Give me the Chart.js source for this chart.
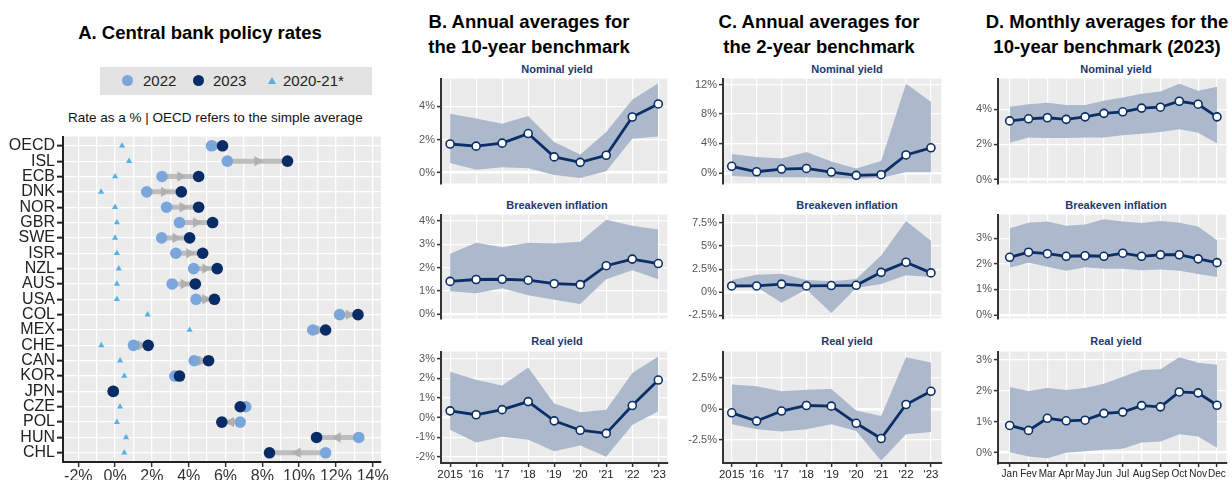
<!DOCTYPE html>
<html><head><meta charset="utf-8">
<script src="https://cdn.jsdelivr.net/npm/chart.js"></script>
<style>
body{margin:0;width:1232px;height:480px;overflow:hidden;background:#fff;font-family:"Liberation Sans",Arial,sans-serif;position:relative}
.ptitle{position:absolute;font-weight:bold;font-size:18.5px;text-align:center;line-height:25px;color:#000;white-space:nowrap}
.stitle{position:absolute;font-weight:bold;font-size:11px;color:#1b3a6f;text-align:center;white-space:nowrap;width:200px}
.lg{position:absolute;font-size:15px;color:#222;line-height:18px}
</style></head><body>
<div class="ptitle" style="left:0;width:400px;top:20px">A. Central bank policy rates</div>
<div class="ptitle" style="left:379px;width:300px;top:9px">B. Annual averages for<br>the 10-year benchmark</div>
<div class="ptitle" style="left:669px;width:300px;top:9px">C. Annual averages for<br>the 2-year benchmark</div>
<div class="ptitle" style="left:957px;width:300px;top:9px">D. Monthly averages for the<br>10-year benchmark (2023)</div>

<div style="position:absolute;left:100px;top:67px;width:272px;height:28px;background:#e3e3e3"></div>
<div style="position:absolute;left:122px;top:75px;width:11px;height:11px;border-radius:50%;background:#7aa6db"></div>
<div class="lg" style="left:143px;top:72px">2022</div>
<div style="position:absolute;left:193px;top:75px;width:11px;height:11px;border-radius:50%;background:#0a2c66"></div>
<div class="lg" style="left:213px;top:72px">2023</div>
<div style="position:absolute;left:268px;top:77px;width:0;height:0;border-left:4px solid transparent;border-right:4px solid transparent;border-bottom:7px solid #55b2e3"></div>
<div class="lg" style="left:283px;top:72px">2020-21*</div>
<div style="position:absolute;left:68px;top:110px;font-size:13.5px;color:#111;white-space:nowrap">Rate as a % | OECD refers to the simple average</div>

<div class="stitle" style="left:457px;top:63px">Nominal yield</div>
<div class="stitle" style="left:457px;top:199px">Breakeven inflation</div>
<div class="stitle" style="left:457px;top:335px">Real yield</div>
<div class="stitle" style="left:747px;top:63px">Nominal yield</div>
<div class="stitle" style="left:747px;top:199px">Breakeven inflation</div>
<div class="stitle" style="left:747px;top:335px">Real yield</div>
<div class="stitle" style="left:1016px;top:63px">Nominal yield</div>
<div class="stitle" style="left:1016px;top:199px">Breakeven inflation</div>
<div class="stitle" style="left:1016px;top:335px">Real yield</div>

<script>
// ---------- Panel A data ----------
const countries = ['OECD','ISL','ECB','DNK','NOR','GBR','SWE','ISR','NZL','AUS','USA','COL','MEX','CHE','CAN','KOR','JPN','CZE','POL','HUN','CHL'];
const rate2022 = [5.24, 6.1, 2.55, 1.72, 2.8, 3.5, 2.53, 3.3, 4.27, 3.1, 4.4, 12.2, 10.74, 1.0, 4.3, 3.25, -0.1, 7.1, 6.8, 13.24, 11.44];
const rate2023 = [5.84, 9.37, 4.54, 3.6, 4.54, 5.3, 4.05, 4.76, 5.55, 4.36, 5.4, 13.2, 11.44, 1.8, 5.08, 3.5, -0.1, 6.8, 5.8, 10.95, 8.39];
const rate2020_21 = [0.38, 0.76, 0, -0.76, 0, 0.1, 0, 0.1, 0.2, 0.1, 0.1, 1.77, 4.05, -0.75, 0.27, 0.5, -0.1, 0.27, 0.1, 0.6, 0.5];
const aTicks = [-2,-1,0,1,2,3,4,5,6,7,8,9,10,11,12,13,14];

// ---------- Panels B-D data ----------
const years = ['2015',"'16","'17","'18","'19","'20","'21","'22","'23"];
const months = ['Jan','Fev','Mar','Apr','May','Jun','Jul','Aug','Sep','Oct','Nov','Dec'];

const bNom   = [1.73,1.6,1.78,2.36,0.95,0.62,1.05,3.36,4.15];
const bNomHi = [3.55,3.27,2.95,3.42,1.85,1.09,2.45,4.4,5.4];
const bNomLo = [0.58,0.18,0.33,0.27,-0.15,-0.33,0.09,2.04,2.18];
const bBe    = [1.41,1.49,1.5,1.46,1.31,1.27,2.08,2.36,2.17];
const bBeHi  = [2.59,3.06,2.87,3.06,3.03,3.1,4.04,3.78,3.62];
const bBeLo  = [0.99,0.9,1.12,0.82,0.63,0.44,1.5,1.88,1.5];
const bReal  = [0.34,0.14,0.4,0.81,-0.17,-0.65,-0.81,0.61,1.91];
const bRealHi= [2.33,1.92,1.63,2.55,0.71,0.27,0.4,2.27,3.11];
const bRealLo= [-0.62,-1.27,-0.98,-1.14,-1.72,-1.43,-2.0,-0.38,0.32];

const cNom   = [0.9,0.16,0.53,0.61,0.12,-0.33,-0.24,2.44,3.41];
const cNomHi = [2.56,2.15,1.95,2.85,1.54,0.61,1.63,12.1,9.67];
const cNomLo = [-0.4,-0.6,-0.6,-0.6,-0.7,-0.8,-0.65,0.08,0.08];
const cBe    = [0.69,0.69,0.89,0.69,0.73,0.76,2.16,3.25,2.1];
const cBeHi  = [1.33,1.91,2.0,1.33,1.2,1.43,3.99,7.72,5.58];
const cBeLo  = [0.47,0.57,-1.13,0.31,-2.24,0.47,0.89,1.85,1.65];
const cReal  = [-0.31,-0.98,-0.17,0.28,0.23,-1.16,-2.39,0.36,1.43];
const cRealHi= [1.97,1.83,1.43,1.56,1.62,-0.12,-0.57,4.18,3.76];
const cRealLo= [-1.24,-1.64,-1.83,-1.64,-1.24,-1.78,-4.18,-2.05,-1.86];

const dNom   = [3.34,3.46,3.52,3.43,3.57,3.77,3.86,4.07,4.12,4.46,4.29,3.57];
const dNomHi = [4.15,4.29,4.37,4.24,4.25,4.49,4.68,4.89,5.01,5.45,5.06,5.28];
const dNomLo = [2.09,2.4,2.37,2.37,2.4,2.4,2.52,2.61,2.71,2.86,2.66,2.06];
const dBe    = [2.25,2.45,2.39,2.29,2.31,2.29,2.41,2.29,2.35,2.35,2.19,2.04];
const dBeHi  = [3.39,3.6,3.65,3.48,3.53,3.74,3.65,3.59,3.67,3.6,3.45,2.92];
const dBeLo  = [1.84,2.04,1.88,1.72,1.86,1.8,1.8,1.74,1.77,1.72,1.6,1.48];
const dReal  = [0.88,0.72,1.11,1.03,1.05,1.27,1.31,1.52,1.48,1.96,1.93,1.53];
const dRealHi= [2.12,1.99,2.09,2.02,2.09,2.22,2.45,2.67,2.69,3.08,2.9,2.84];
const dRealLo= [0.02,-0.12,-0.18,0,0.05,0.1,0.13,0.33,0.36,0.6,0.52,0.16];

const bNomTicks=[0,2,4], bBeTicks=[0,1,2,3,4], bRealTicks=[-2,-1,0,1,2,3];
const cNomTicks=[0,4,8,12], cBeTicks=[-2.5,0,2.5,5,7.5], cRealTicks=[-2.5,0,2.5];
const dNomTicks=[0,2,4], dBeTicks=[0,1,2,3], dRealTicks=[0,1,2,3];

// ---------- styling ----------
const NAVY='#0b2e66', BAND='#acb9cd', LIGHT='#7aa6db', DARK='#0a2c66', SKY='#55b2e3', GRAY='#bdbdbd', ARROW='#b0b0b0';
Chart.defaults.font.family='"Liberation Sans", Arial, sans-serif';

const bg = {id:'bg', beforeDraw(c){const a=c.chartArea, x=c.ctx; x.save(); x.fillStyle='#ebebeb'; x.fillRect(a.left,a.top,a.right-a.left,a.bottom-a.top); x.restore();}};

function mkCanvas(left, top, w, h){
  const cv=document.createElement('canvas'); cv.width=w; cv.height=h;
  cv.style.cssText=`position:absolute;left:${left}px;top:${top}px;width:${w}px;height:${h}px`;
  document.body.appendChild(cv); return cv;
}

function sub(o){
  const cv = mkCanvas(o.left, o.top, o.w, o.h);
  const pts = a => a.map((v,i)=>({x:i,y:v}));
  new Chart(cv, {
    type:'line',
    data:{datasets:[
      {data:pts(o.mid), borderColor:NAVY, borderWidth:2.8, pointRadius:4, pointBackgroundColor:'#fff', pointBorderColor:NAVY, pointBorderWidth:1.6, fill:false, tension:0},
      {data:pts(o.hi), borderWidth:0, pointRadius:0, backgroundColor:BAND, borderColor:'rgba(0,0,0,0)', fill:'+1'},
      {data:pts(o.lo), borderWidth:0, pointRadius:0, borderColor:'rgba(0,0,0,0)', fill:false}
    ]},
    options:{responsive:false, animation:false, devicePixelRatio:1,
      layout:{padding:{top:5, right:0, left:0, bottom:0}},
      plugins:{legend:{display:false}, tooltip:{enabled:false}},
      scales:{
        x:{type:'linear', min:o.xmin, max:o.xmax,
           afterBuildTicks:s=>{s.ticks=o.labels.map((_,i)=>({value:i}));},
           afterFit:s=>{s.height = o.showX ? 17 : 0;},
           grid:{color:'#fff', lineWidth:1.2, drawTicks:o.showX, tickLength:4, tickColor:'#333', tickWidth:1.5},
           border:{display:o.showX, color:'#333', width:2},
           ticks:{display:o.showX, autoSkip:false, maxRotation:0, padding:1, color:'#222', font:{size:o.xfont}, callback:v=>o.labels[Math.round(v)]}},
        y:{type:'linear', min:o.ymin, max:o.ymax,
           afterBuildTicks:s=>{s.ticks=o.ticks.map(v=>({value:v}));},
           afterFit:s=>{s.width=o.yw;},
           grid:{color:'#fff', lineWidth:c=>(c.tick&&c.tick.value===0)?2.6:1.2, tickLength:4, tickColor:'#333', tickWidth:1.5},
           border:{color:'#333', width:2},
           ticks:{color:'#555', font:{size:11}, padding:2, callback:v=>v+'%'}}
      }},
    plugins:[bg]
  });
}

// Panel B
const B={left:395,w:278,yw:46,xmin:-0.35,xmax:8.35,labels:years,xfont:11.5};
sub({...B, top:70, h:122, mid:bNom, hi:bNomHi, lo:bNomLo, ymin:-0.65, ymax:5.68, ticks:bNomTicks, showX:false});
sub({...B, top:206, h:121, mid:bBe, hi:bBeHi, lo:bBeLo, ymin:-0.17, ymax:4.26, ticks:bBeTicks, showX:false});
sub({...B, top:343, h:137, mid:bReal, hi:bRealHi, lo:bRealLo, ymin:-2.32, ymax:3.36, ticks:bRealTicks, showX:true});
// Panel C
const C={left:680,w:267,yw:43,xmin:-0.35,xmax:8.42,labels:years,xfont:11.5};
sub({...C, top:70, h:122, mid:cNom, hi:cNomHi, lo:cNomLo, ymin:-1.42, ymax:12.8, ticks:cNomTicks, showX:false});
sub({...C, top:206, h:121, mid:cBe, hi:cBeHi, lo:cBeLo, ymin:-2.82, ymax:8.4, ticks:cBeTicks, showX:false});
sub({...C, top:343, h:137, mid:cReal, hi:cRealHi, lo:cRealLo, ymin:-4.37, ymax:4.64, ticks:cRealTicks, showX:true});
// Panel D
const D={left:960,w:272,yw:38,xmin:-0.62,xmax:11.5,labels:months,xfont:10};
sub({...D, top:70, h:122, mid:dNom, hi:dNomHi, lo:dNomLo, ymin:-0.22, ymax:5.75, ticks:dNomTicks, showX:false});
sub({...D, top:206, h:121, mid:dBe, hi:dBeHi, lo:dBeLo, ymin:-0.14, ymax:3.92, ticks:dBeTicks, showX:false});
sub({...D, top:343, h:137, mid:dReal, hi:dRealHi, lo:dRealLo, ymin:-0.33, ymax:3.26, ticks:dRealTicks, showX:true});

// Panel A
(function(){
  const cv = mkCanvas(0,125,400,355);
  const ds = [];
  ds.push({data:rate2023.map((v,i)=>({x:v,y:i})), showLine:false, pointRadius:5.8, pointBackgroundColor:DARK, pointBorderWidth:0});
  ds.push({data:rate2022.map((v,i)=>({x:v,y:i})), showLine:false, pointRadius:5.8, pointBackgroundColor:LIGHT, pointBorderWidth:0});
  ds.push({data:rate2020_21.map((v,i)=>({x:v,y:i})), showLine:false, pointStyle:'triangle', pointRadius:3.6, pointBackgroundColor:SKY, pointBorderWidth:0});
  ds.push({data:rate2022.map((v,i)=>({x:(v+rate2023[i])/2,y:i})), showLine:false, pointStyle:'triangle', pointRadius:6,
           pointRotation:rate2022.map((v,i)=>rate2023[i]>=v?90:-90), pointBackgroundColor:ARROW, pointBorderWidth:0});
  countries.forEach((c,i)=>ds.push({data:[{x:rate2022[i],y:i},{x:rate2023[i],y:i}], borderColor:GRAY, borderWidth:5, pointRadius:0, fill:false}));
  new Chart(cv,{
    type:'line',
    data:{datasets:ds},
    options:{responsive:false, animation:false, devicePixelRatio:1,
      layout:{padding:{top:3.5,right:19,left:0,bottom:0}},
      plugins:{legend:{display:false}, tooltip:{enabled:false}},
      scales:{
        x:{type:'linear', min:-2.83, max:14.45,
           afterBuildTicks:s=>{s.ticks=aTicks.map(v=>({value:v}));},
           afterFit:s=>{s.height=18;},
           grid:{color:'#fff', lineWidth:1.3, tickLength:5, tickWidth:1.5, tickColor:c=>(c.tick&&c.tick.value%2===0)?'#333':'rgba(0,0,0,0)'},
           border:{color:'#222', width:2},
           ticks:{autoSkip:false, maxRotation:0, padding:0, color:'#333', font:{size:16}, callback:v=>(v%2===0)?v+'%':''}},
        y:{type:'linear', min:-0.6, max:20.6, reverse:true,
           afterBuildTicks:s=>{s.ticks=countries.map((_,i)=>({value:i}));},
           afterFit:s=>{s.width=63;},
           grid:{color:'#fff', lineWidth:1.3, tickLength:6, tickWidth:2, tickColor:'#222'},
           border:{color:'#222', width:2},
           ticks:{autoSkip:false, padding:2, color:'#222', font:{size:16}, callback:v=>countries[v]}}
      }},
    plugins:[bg]
  });
})();
</script>
</body></html>
